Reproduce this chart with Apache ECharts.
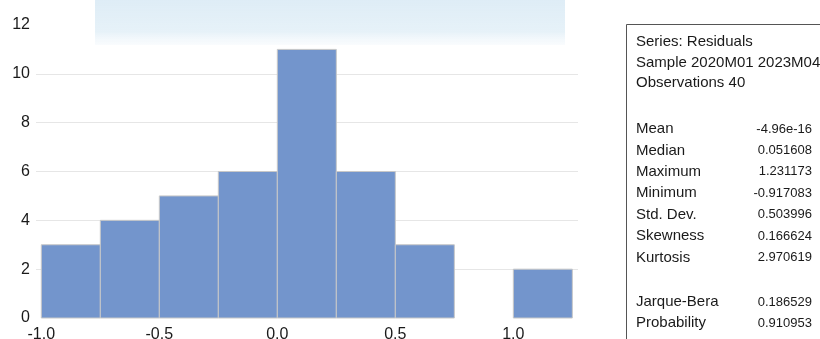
<!DOCTYPE html>
<html>
<head>
<meta charset="utf-8">
<script src="https://cdn.jsdelivr.net/npm/echarts@6/dist/echarts.min.js"></script>
<style>
  html, body { margin: 0; padding: 0; background: #fff; }
  #chart { width: 820px; height: 339px; }
</style>
</head>
<body>
<div id="chart"></div>
<script>
// histogram bins of the residuals
const binStart = [-1.0, -0.75, -0.5, -0.25, 0.0, 0.25, 0.5, 0.75, 1.0]
const binEnd = [-0.75, -0.5, -0.25, 0.0, 0.25, 0.5, 0.75, 1.0, 1.25]
const counts = [3, 4, 5, 6, 11, 6, 3, 0, 2]
const xTicks = [-1.0, -0.5, 0.0, 0.5, 1.0]

// stats panel text
const headerLines = ['Series: Residuals', 'Sample 2020M01 2023M04', 'Observations 40']
const statNames = ['Mean', 'Median', 'Maximum', 'Minimum', 'Std. Dev.', 'Skewness', 'Kurtosis']
const statValues = ['-4.96e-16', '0.051608', '1.231173', '-0.917083', '0.503996', '0.166624', '2.970619']
const testNames = ['Jarque-Bera', 'Probability']
const testValues = ['0.186529', '0.910953']

const chart = echarts.init(document.getElementById('chart'))

const labelFont = { fontFamily: 'Liberation Sans', fontSize: 15, fill: '#1a1a1a' }
const valueFont = { fontFamily: 'Liberation Sans', fontSize: 13, fill: '#1a1a1a' }

const panel = [
  {
    type: 'rect', z: 10,
    shape: { x: 626.5, y: 24.5, width: 300, height: 400 },
    style: { fill: '#fff', stroke: '#555', lineWidth: 1 }
  }
]
headerLines.forEach((t, i) => {
  panel.push({ type: 'text', z: 11, x: 636, y: 42 + i * 20.5,
    style: Object.assign({ text: t, verticalAlign: 'middle' }, labelFont) })
})
statNames.forEach((t, i) => {
  panel.push({ type: 'text', z: 11, x: 636, y: 129 + i * 21.4,
    style: Object.assign({ text: t, verticalAlign: 'middle' }, labelFont) })
  panel.push({ type: 'text', z: 11, x: 812, y: 129 + i * 21.4,
    style: Object.assign({ text: statValues[i], verticalAlign: 'middle', align: 'right' }, valueFont) })
})
testNames.forEach((t, i) => {
  panel.push({ type: 'text', z: 11, x: 636, y: 302 + i * 21,
    style: Object.assign({ text: t, verticalAlign: 'middle' }, labelFont) })
  panel.push({ type: 'text', z: 11, x: 812, y: 302 + i * 21,
    style: Object.assign({ text: testValues[i], verticalAlign: 'middle', align: 'right' }, valueFont) })
})

// faint scanned watermark band at the top
panel.push({
  type: 'rect', z: 5, silent: true,
  shape: { x: 95, y: 0, width: 470, height: 45 },
  style: {
    fill: new echarts.graphic.LinearGradient(0, 0, 0, 1, [
      { offset: 0, color: 'rgba(214,232,244,0.8)' },
      { offset: 0.7, color: 'rgba(222,237,246,0.75)' },
      { offset: 1, color: 'rgba(236,244,250,0.3)' }
    ])
  }
})

chart.setOption({
  animation: false,
  grid: { left: 36, right: 242, top: 25, bottom: 21, outerBoundsMode: 'none' },
  xAxis: {
    type: 'value',
    min: -1.0225,
    max: 1.274,
    axisLine: { show: false },
    axisTick: { show: false },
    splitLine: { show: false },
    axisLabel: {
      customValues: xTicks,
      formatter: v => v.toFixed(1),
      margin: 9,
      fontFamily: 'Liberation Sans',
      fontSize: 16,
      color: '#1a1a1a'
    }
  },
  yAxis: {
    type: 'value',
    min: 0,
    max: 12,
    interval: 2,
    axisLine: { show: false },
    axisTick: { show: false },
    axisLabel: {
      margin: 6,
      fontFamily: 'Liberation Sans',
      fontSize: 16,
      color: '#1a1a1a'
    },
    splitLine: {
      lineStyle: {
        color: ['rgba(0,0,0,0)', '#e6e6e6', '#e6e6e6', '#e6e6e6', '#e6e6e6', '#e6e6e6', 'rgba(0,0,0,0)'],
        width: 1
      }
    }
  },
  series: [{
    type: 'custom',
    data: counts.map((c, i) => [binStart[i], binEnd[i], c]),
    encode: { x: [0, 1], y: 2 },
    renderItem: (params, api) => {
      if (api.value(2) <= 0) return null
      const topLeft = api.coord([api.value(0), api.value(2)])
      const bottomRight = api.coord([api.value(1), 0])
      return {
        type: 'rect',
        shape: {
          x: topLeft[0],
          y: topLeft[1],
          width: bottomRight[0] - topLeft[0],
          height: bottomRight[1] - topLeft[1]
        },
        style: { fill: '#7395cc', stroke: '#c8c8c8', lineWidth: 1 }
      }
    }
  }],
  graphic: panel
})
</script>
</body>
</html>
